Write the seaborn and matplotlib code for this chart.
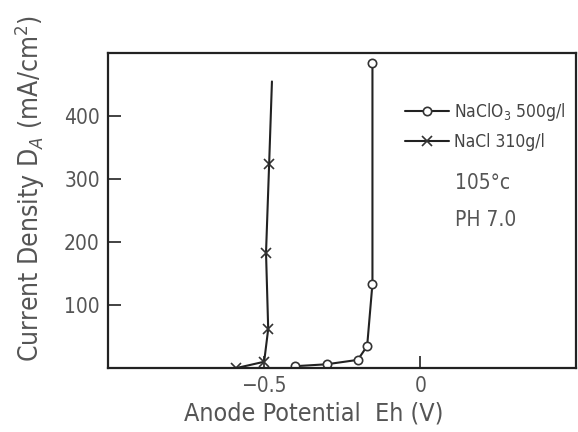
import matplotlib
matplotlib.use("Agg")
import matplotlib.pyplot as plt
import seaborn as sns
import pandas as pd

# NaClO3 500 g/l (circles)
clo3_eh = [-0.40, -0.30, -0.20, -0.17, -0.153, -0.153]
clo3_da = [3, 6, 13, 35, 134, 484]
# NaCl 310 g/l (crosses); last point is line end without marker
cl_eh = [-0.589, -0.500, -0.487, -0.494, -0.484]
cl_da = [0, 10, 62, 183, 324]
cl_end_eh = [-0.484, -0.475]
cl_end_da = [324, 455]

xticks = [-0.5, 0]
xticklabels = ["\u22120.5", "0"]
yticks = [100, 200, 300, 400]
yticklabels = ["100", "200", "300", "400"]

sns.set_style("ticks")
plt.rcParams['font.family'] = ['DejaVu Sans']
plt.rcParams['font.stretch'] = 'condensed'

fig = plt.figure(figsize=(5.78, 4.32), dpi=100)
ax = fig.add_axes([0.187, 0.148, 0.810, 0.729])

df1 = pd.DataFrame({"Eh": clo3_eh, "DA": clo3_da})
df2 = pd.DataFrame({"Eh": cl_eh, "DA": cl_da})
df3 = pd.DataFrame({"Eh": cl_end_eh, "DA": cl_end_da})

common = dict(sort=False, estimator=None, errorbar=None, ax=ax, color="#222222", lw=1.5)
sns.lineplot(data=df1, x="Eh", y="DA", marker="o", markersize=6, markerfacecolor="white",
             markeredgecolor="#333333", markeredgewidth=1.2, label="NaClO$_3$ 500g/l", **common)
sns.lineplot(data=df2, x="Eh", y="DA", marker="x", markersize=7, markeredgecolor="#333333",
             markeredgewidth=1.2, label="NaCl 310g/l", **common)
sns.lineplot(data=df3, x="Eh", y="DA", legend=False, **common)

ax.set_xlim(-1.0, 0.5)
ax.set_ylim(0, 500)
ax.set_xticks(xticks)
ax.set_xticklabels(xticklabels)
ax.set_yticks(yticks)
ax.set_yticklabels(yticklabels)
ax.tick_params(direction="in", length=9, width=1.2, labelsize=15, colors="#222222",
               labelcolor="#555555", pad=6)
for s in ax.spines.values():
    s.set_linewidth(1.6)
    s.set_color("#222222")

ax.set_xlabel("Anode Potential  Eh (V)", fontsize=18, color="#555555")
ax.xaxis.set_label_coords(0.44, -0.105)
ax.set_ylabel("Current Density D$_A$ (mA/cm$^2$)", fontsize=19, color="#555555")
ax.yaxis.set_label_coords(-0.13, 0.57)

leg = ax.legend(loc="upper left", bbox_to_anchor=(0.62, 0.87), frameon=False,
                fontsize=12.5, handlelength=2.5, handletextpad=0.3, labelspacing=0.6,
                borderaxespad=0)
for t in leg.get_texts():
    t.set_color("#444444")

ax.text(0.741, 0.587, "105°c", transform=ax.transAxes, fontsize=15, color="#555555", va="center")
ax.text(0.741, 0.47, "PH 7.0", transform=ax.transAxes, fontsize=15, color="#555555", va="center")

fig.savefig("out.png", dpi=100)
